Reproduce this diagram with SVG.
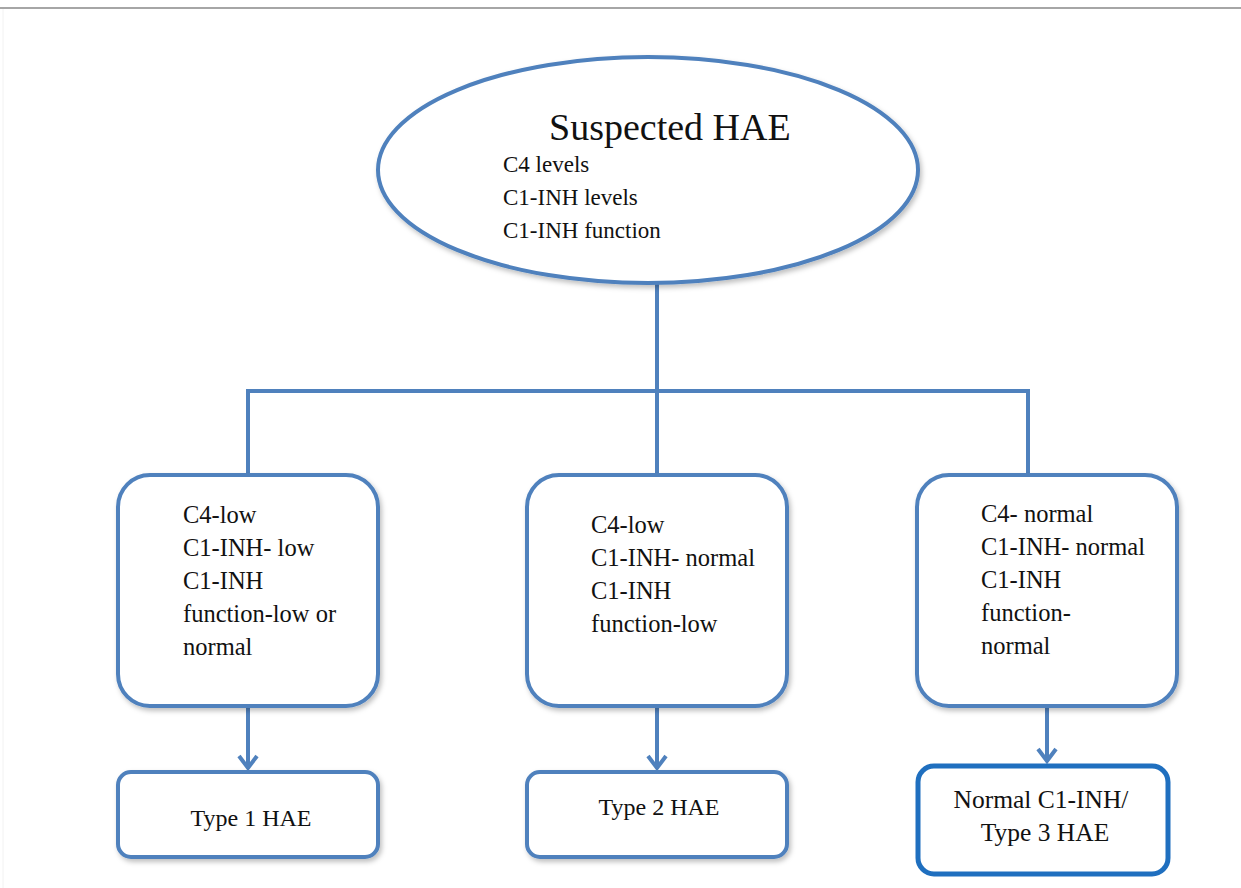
<svg xmlns="http://www.w3.org/2000/svg" width="1241" height="888" viewBox="0 0 1241 888">
  <defs>
    <style>
      .shape { fill: #ffffff; stroke: #4f81bd; stroke-width: 4; }
      .final { fill: #ffffff; stroke: #1f6fbf; stroke-width: 5; }
      .link { fill: none; stroke: #4f81bd; stroke-width: 4; }
      .txt { font-family: "Liberation Serif", "DejaVu Serif", serif; fill: #111111; }
      .body { font-size: 24.5px; }
      .head { font-size: 38px; }
      .sub { font-size: 23px; }
      .out { font-size: 24px; }
      .out3 { font-size: 25.5px; }
    </style>
    <filter id="shadow" x="-10%" y="-10%" width="125%" height="130%">
      <feDropShadow dx="2" dy="3" stdDeviation="2.5" flood-color="#000000" flood-opacity="0.25"/>
    </filter>
    <!-- open chevron head, drawn pointing along +x so orient="auto" turns it along the line -->
    <marker id="chev" markerUnits="userSpaceOnUse" markerWidth="24" markerHeight="24" refX="18" refY="12" orient="auto" viewBox="0 0 24 24">
      <path d="M6 3 L18 12 L6 21" fill="none" stroke="#4f81bd" stroke-width="4" stroke-linejoin="miter"/>
    </marker>
  </defs>

  <rect width="1241" height="888" fill="#ffffff"/>
  <!-- page rule along the top -->
  <line x1="0" y1="8" x2="1241" y2="8" stroke="#a6a6a6" stroke-width="2"/>
  <line x1="3" y1="9" x2="3" y2="888" stroke="#f2f2f2" stroke-width="1"/>

  <g id="connectors">
    <path class="link" d="M657 284 V391"/>
    <path class="link" d="M248 476 V391 H1028 V476"/>
    <path class="link" d="M657 391 V476"/>
    <path class="link" d="M248 706 V768" marker-end="url(#chev)"/>
    <path class="link" d="M657 706 V768" marker-end="url(#chev)"/>
    <path class="link" d="M1047 706 V761" marker-end="url(#chev)"/>
  </g>

  <g id="suspected">
    <ellipse class="shape" cx="648" cy="170" rx="270" ry="113" filter="url(#shadow)"/>
    <text class="txt head" x="549" y="140">Suspected HAE</text>
    <text class="txt sub" x="503" y="172">C4 levels</text>
    <text class="txt sub" x="503" y="205">C1-INH levels</text>
    <text class="txt sub" x="503" y="238">C1-INH function</text>
  </g>

  <g id="finding1">
    <rect class="shape" x="118" y="475" width="260" height="231" rx="32" filter="url(#shadow)"/>
    <text class="txt body" x="183" y="523">C4-low</text>
    <text class="txt body" x="183" y="556">C1-INH- low</text>
    <text class="txt body" x="183" y="589">C1-INH</text>
    <text class="txt body" x="183" y="622">function-low or</text>
    <text class="txt body" x="183" y="655">normal</text>
  </g>

  <g id="finding2">
    <rect class="shape" x="527" y="475" width="260" height="231" rx="32" filter="url(#shadow)"/>
    <text class="txt body" x="591" y="533">C4-low</text>
    <text class="txt body" x="591" y="566">C1-INH- normal</text>
    <text class="txt body" x="591" y="599">C1-INH</text>
    <text class="txt body" x="591" y="632">function-low</text>
  </g>

  <g id="finding3">
    <rect class="shape" x="917" y="475" width="260" height="231" rx="32" filter="url(#shadow)"/>
    <text class="txt body" x="981" y="522">C4- normal</text>
    <text class="txt body" x="981" y="555">C1-INH- normal</text>
    <text class="txt body" x="981" y="588">C1-INH</text>
    <text class="txt body" x="981" y="621">function-</text>
    <text class="txt body" x="981" y="654">normal</text>
  </g>

  <g id="type1">
    <rect class="shape" x="118" y="772" width="260" height="85" rx="13" filter="url(#shadow)"/>
    <text class="txt out" x="251" y="826" text-anchor="middle">Type 1 HAE</text>
  </g>

  <g id="type2">
    <rect class="shape" x="527" y="772" width="260" height="85" rx="13" filter="url(#shadow)"/>
    <text class="txt out" x="659" y="815" text-anchor="middle">Type 2 HAE</text>
  </g>

  <g id="type3">
    <rect class="final" x="918" y="766" width="250" height="108" rx="16"/>
    <text class="txt out3" x="1041" y="808" text-anchor="middle">Normal C1-INH/</text>
    <text class="txt out3" x="1045" y="841" text-anchor="middle">Type 3 HAE</text>
  </g>
</svg>
